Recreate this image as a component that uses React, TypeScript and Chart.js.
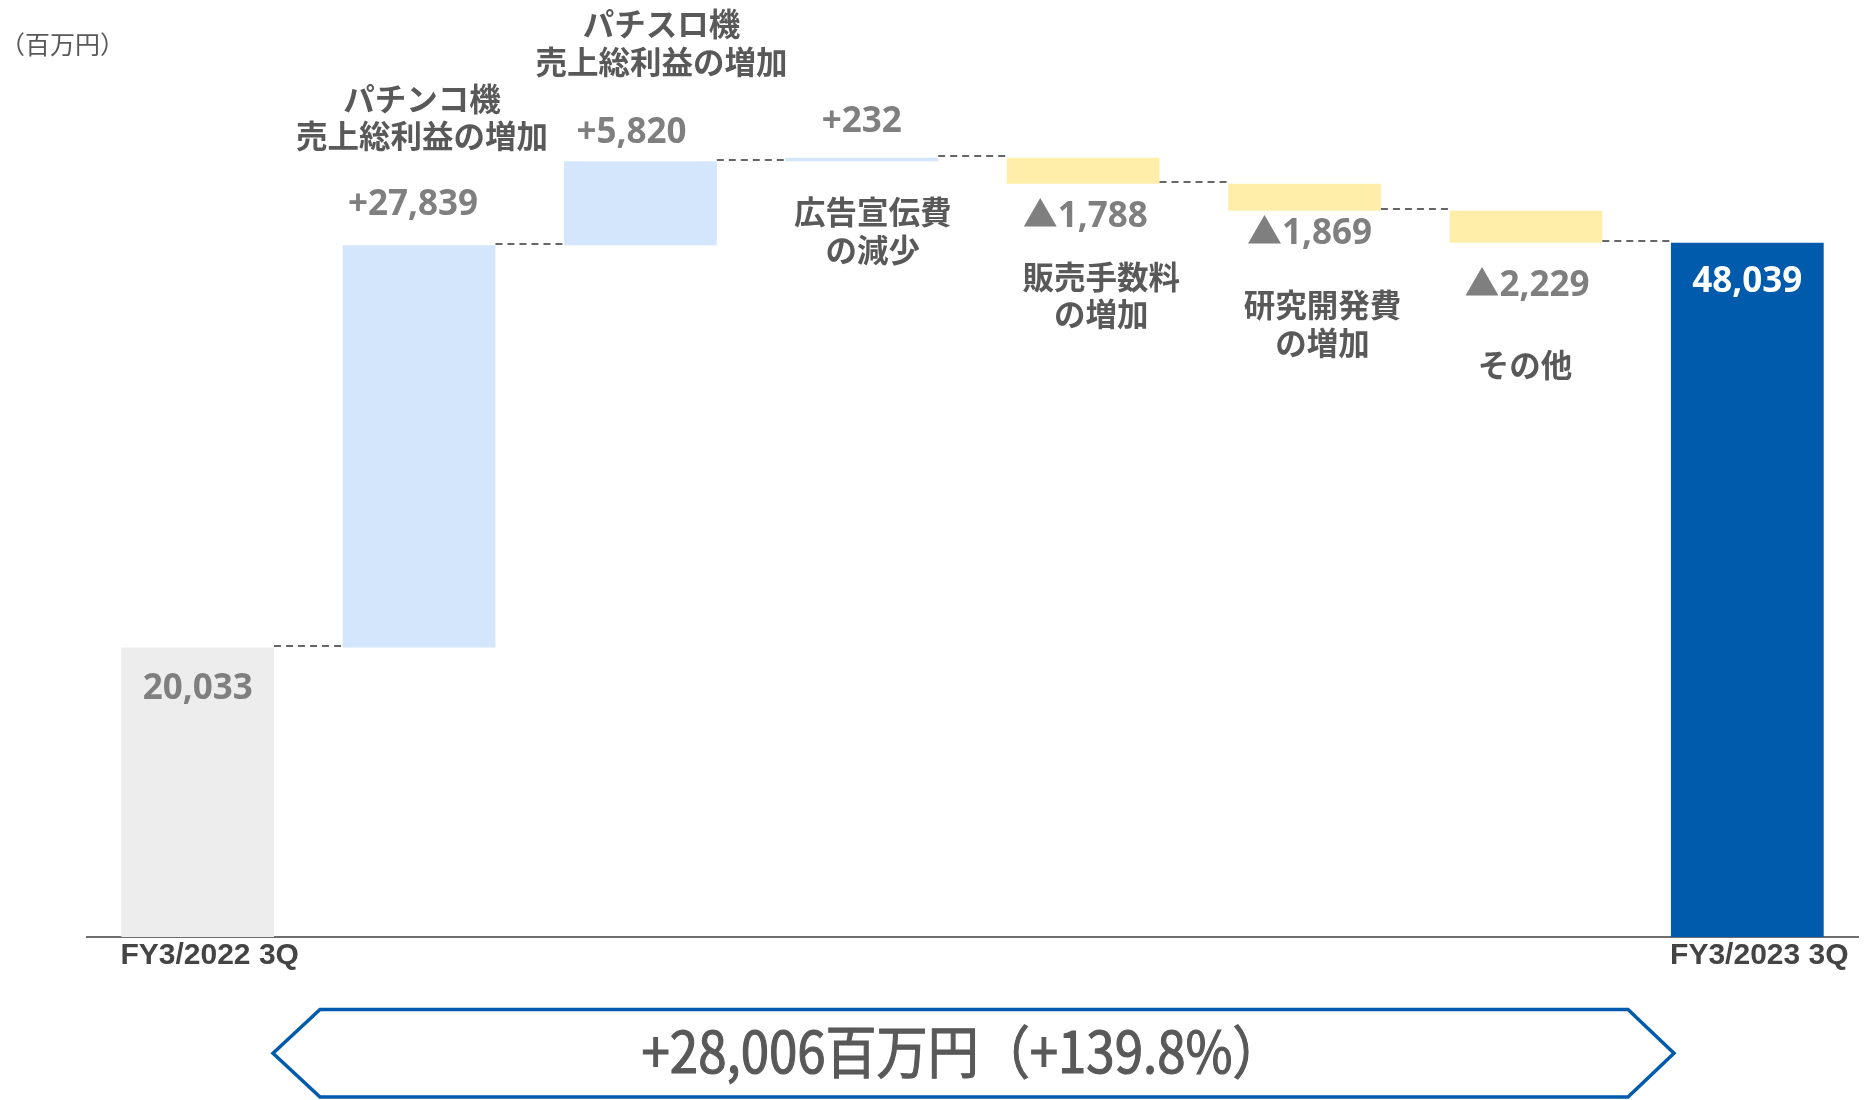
import React, { useEffect, useRef } from 'react';
import { Chart, registerables } from 'chart.js';

Chart.register(...registerables);

// ---------------- data ----------------
const categories = [
  'FY3/2022 3Q',
  'パチンコ機 売上総利益の増加',
  'パチスロ機 売上総利益の増加',
  '広告宣伝費の減少',
  '販売手数料の増加',
  '研究開発費の増加',
  'その他',
  'FY3/2023 3Q',
];
const axisLabels = ['FY3/2022 3Q', '', '', '', '', '', '', 'FY3/2023 3Q'];
const itemNames: string[][] = [
  [],
  ['パチンコ機', '売上総利益の増加'],
  ['パチスロ機', '売上総利益の増加'],
  ['広告宣伝費', 'の減少'],
  ['販売手数料', 'の増加'],
  ['研究開発費', 'の増加'],
  ['その他'],
  [],
];
const startValue = 20033;
const changes = [27839, 5820, 232, -1788, -1869, -2229];
const endValue = 48039;
const totalChangeText = '+28,006百万円（+139.8%）';
const unitText = '（百万円）';

// ---------------- styles / layout ----------------
const barColors = ['#EDEDED', '#D3E6FB', '#D3E6FB', '#D3E6FB', '#FFEEA9', '#FFEEA9', '#FFEEA9', '#005BAC'];
const valueColors = ['#7F7F7F', '#7F7F7F', '#7F7F7F', '#7F7F7F', '#7F7F7F', '#7F7F7F', '#7F7F7F', '#FFFFFF'];
const valueAnchor = ['top', 'top', 'top', 'top', 'bottom', 'bottom', 'bottom', 'top'];
const valueDy = [51, -30, -18, -26, 43, 33, 53, 49];
const valueDx = [0, -6, -9, 0, 2, 5, 1, 0];
const nameAnchor = ['top', 'top', 'top', 'bottom', 'bottom', 'bottom', 'bottom', 'top'];
const nameDy = [0, -146.5, -137, 51, 93, 94.5, 122, 0];
const nameDx = [0, 3, 21, 11, 18, 18, -1, 0];
const nameLineGap = 37.5;

const CJK = "'Noto Sans CJK JP', 'Noto Sans', sans-serif";
const NUM = "'Open Sans', 'Noto Sans CJK JP', sans-serif";

// ---------------- derived ranges ----------------
const ranges: [number, number][] = [];
ranges.push([0, startValue]);
let running = startValue;
for (const c of changes) {
  ranges.push([running, running + c]);
  running += c;
}
ranges.push([0, endValue]);

const fmt = (v: number) => v.toLocaleString('en-US');
const valueTexts = [
  fmt(startValue),
  ...changes.map((c) => (c >= 0 ? '+' : '▲') + fmt(Math.abs(c))),
  fmt(endValue),
];

const annotatePlugin = {
  id: 'waterfallAnnotations',
  afterDatasetsDraw(chart: any) {
    const ctx = chart.ctx;
    const meta = chart.getDatasetMeta(0);
    const yScale = chart.scales.y;
    ctx.save();

    // connectors
    ctx.strokeStyle = '#666666';
    ctx.lineWidth = 2;
    ctx.setLineDash([7, 5]);
    for (let i = 0; i < meta.data.length - 1; i++) {
      const a = meta.data[i].getProps(['x', 'width'], true);
      const b = meta.data[i + 1].getProps(['x', 'width'], true);
      const level = ranges[i][1];
      const yy = Math.round(yScale.getPixelForValue(level) - 1.5);
      ctx.beginPath();
      ctx.moveTo(a.x + a.width / 2, yy);
      ctx.lineTo(b.x - b.width / 2, yy);
      ctx.stroke();
    }
    ctx.setLineDash([]);

    // value labels & names
    for (let i = 0; i < meta.data.length; i++) {
      const p = meta.data[i].getProps(['x', 'y', 'base'], true);
      const top = Math.min(p.y, p.base);
      const bottom = Math.max(p.y, p.base);

      ctx.font = `bold 35px ${NUM}`;
      ctx.fillStyle = valueColors[i];
      ctx.textAlign = 'center';
      ctx.textBaseline = 'alphabetic';
      const vy = (valueAnchor[i] === 'top' ? top : bottom) + valueDy[i];
      ctx.fillText(valueTexts[i], p.x + valueDx[i], vy);

      const names = itemNames[i];
      if (names.length) {
        ctx.font = `bold 31.5px ${CJK}`;
        ctx.fillStyle = '#595959';
        ctx.textBaseline = 'middle';
        const ny = (nameAnchor[i] === 'top' ? top : bottom) + nameDy[i];
        names.forEach((t, k) => ctx.fillText(t, p.x + nameDx[i], ny + k * nameLineGap));
      }
    }

    // unit
    ctx.font = `25px ${CJK}`;
    ctx.fillStyle = '#595959';
    ctx.textAlign = 'left';
    ctx.textBaseline = 'middle';
    ctx.fillText(unitText, 0, 44);

    // summary box
    const L = 273, Li = 320, Ri = 1628, R = 1674, T = 1009.5, B = 1097, M = (T + B) / 2;
    ctx.beginPath();
    ctx.moveTo(L, M);
    ctx.lineTo(Li, T);
    ctx.lineTo(Ri, T);
    ctx.lineTo(R, M);
    ctx.lineTo(Ri, B);
    ctx.lineTo(Li, B);
    ctx.closePath();
    ctx.fillStyle = '#FFFFFF';
    ctx.fill();
    ctx.strokeStyle = '#005BAC';
    ctx.lineWidth = 3.5;
    ctx.lineJoin = 'miter';
    ctx.stroke();

    ctx.font = `57px ${CJK}`;
    ctx.fillStyle = '#595959';
    ctx.strokeStyle = '#595959';
    ctx.lineWidth = 1.2;
    ctx.textAlign = 'center';
    ctx.textBaseline = 'middle';
    ctx.fillText(totalChangeText, 962.5, 1051, 642);
    ctx.strokeText(totalChangeText, 962.5, 1051, 642);

    ctx.restore();
  },
};

export default function App() {
  const canvasRef = useRef<HTMLCanvasElement | null>(null);

  useEffect(() => {
    document.body.style.margin = '0';
    document.body.style.overflow = 'hidden';
    const canvas = canvasRef.current;
    if (!canvas) return;
    const chart = new Chart(canvas, {
      type: 'bar',
      data: {
        labels: categories,
        datasets: [
          {
            data: ranges as any,
            backgroundColor: barColors,
            borderWidth: 0,
            barPercentage: 0.69,
            categoryPercentage: 1,
          },
        ],
      },
      options: {
        responsive: false,
        animation: false,
        devicePixelRatio: 1,
        layout: { padding: { left: 87, right: 11, top: 70, bottom: 125 } },
        plugins: {
          legend: { display: false },
          tooltip: { enabled: false },
          title: { display: false },
        },
        scales: {
          x: {
            offset: true,
            z: 1,
            grid: { display: false, drawTicks: false },
            border: { display: true, color: '#6E6E6E', width: 2 },
            ticks: {
              autoSkip: false,
              maxRotation: 0,
              minRotation: 0,
              padding: 1,
              labelOffset: 12,
              color: '#444444',
              font: { family: "'Liberation Sans', Arial, sans-serif", size: 30, weight: 'bold', lineHeight: 1.2 },
              callback: (_v: any, i: number) => axisLabels[i],
            },
          },
          y: {
            display: false,
            min: 0,
            max: 60000,
          },
        },
      },
      plugins: [annotatePlugin],
    });
    return () => chart.destroy();
  }, []);

  return (
    <div style={{ position: 'absolute', left: 0, top: 0, width: 1869, height: 1100, background: '#FFFFFF' }}>
      <canvas ref={canvasRef} width={1869} height={1100} style={{ display: 'block' }} />
    </div>
  );
}
